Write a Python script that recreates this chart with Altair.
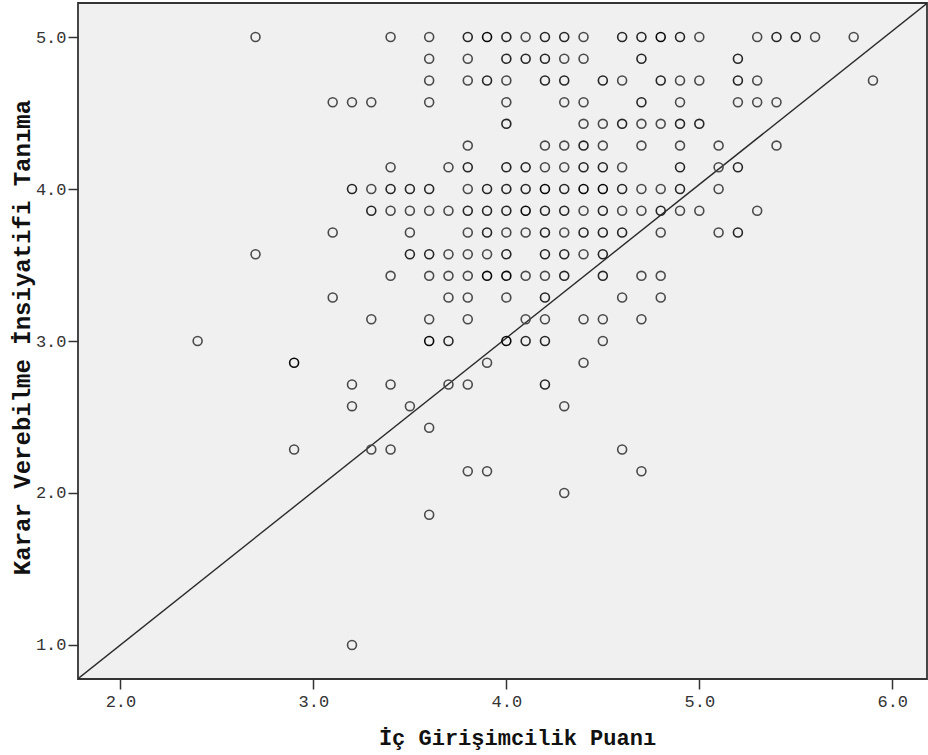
import altair as alt
import pandas as pd

# Karar Verebilme İnsiyatifi Tanıma levels (rows of the scatter)
karar_levels = [5.0, 4.857, 4.714, 4.571, 4.429, 4.286, 4.143, 4.0, 3.857,
                3.714, 3.571, 3.429, 3.286, 3.143, 3.0, 2.857, 2.714, 2.571,
                2.429, 2.286, 2.143, 2.0, 1.857, 1.0]

# İç Girişimcilik Puanı values found on each level
puan_by_level = [
    [2.7, 3.4, 3.6, 3.8, 3.9, 4.0, 4.1, 4.2, 4.3, 4.4, 4.6, 4.7, 4.8, 4.9, 5.0, 5.3, 5.4, 5.5, 5.6, 5.8],
    [3.6, 3.8, 4.0, 4.1, 4.2, 4.3, 4.4, 4.7, 5.2],
    [3.6, 3.8, 3.9, 4.0, 4.2, 4.3, 4.5, 4.6, 4.8, 4.9, 5.0, 5.2, 5.3, 5.9],
    [3.1, 3.2, 3.3, 3.6, 4.0, 4.3, 4.4, 4.7, 4.9, 5.2, 5.3, 5.4],
    [4.0, 4.4, 4.5, 4.6, 4.7, 4.8, 4.9, 5.0],
    [3.8, 4.2, 4.3, 4.4, 4.5, 4.7, 4.9, 5.1, 5.4],
    [3.4, 3.7, 3.8, 4.0, 4.1, 4.2, 4.3, 4.4, 4.5, 4.6, 4.9, 5.1, 5.2],
    [3.2, 3.3, 3.4, 3.5, 3.6, 3.8, 3.9, 4.0, 4.1, 4.2, 4.3, 4.4, 4.5, 4.6, 4.7, 4.8, 4.9, 5.1],
    [3.3, 3.4, 3.5, 3.6, 3.7, 3.8, 3.9, 4.0, 4.1, 4.2, 4.3, 4.4, 4.5, 4.6, 4.7, 4.8, 4.9, 5.0, 5.3],
    [3.1, 3.5, 3.8, 3.9, 4.0, 4.1, 4.2, 4.3, 4.4, 4.5, 4.6, 4.8, 5.1, 5.2],
    [2.7, 3.5, 3.6, 3.7, 3.8, 3.9, 4.0, 4.2, 4.3, 4.4, 4.5],
    [3.4, 3.6, 3.7, 3.8, 3.9, 4.0, 4.1, 4.2, 4.3, 4.5, 4.7, 4.8],
    [3.1, 3.7, 3.8, 4.0, 4.2, 4.6, 4.8],
    [3.3, 3.6, 3.8, 4.1, 4.2, 4.4, 4.5, 4.7],
    [2.4, 3.6, 3.7, 4.0, 4.1, 4.2, 4.5],
    [2.9, 3.9, 4.4],
    [3.2, 3.4, 3.7, 3.8, 4.2],
    [3.2, 3.5, 4.3],
    [3.6],
    [2.9, 3.3, 3.4, 4.6],
    [3.8, 3.9, 4.7],
    [4.3],
    [3.6],
    [3.2],
]

# number of respondents sharing each point (overlaps draw darker)
adet_by_level = [
    [1, 1, 1, 2, 3, 2, 1, 2, 2, 1, 2, 2, 3, 2, 1, 1, 2, 2, 1, 1],
    [1, 1, 2, 2, 2, 1, 1, 2, 2],
    [1, 1, 2, 1, 2, 2, 2, 1, 2, 1, 1, 2, 1, 1],
    [1, 1, 1, 1, 1, 1, 1, 2, 1, 1, 1, 1],
    [2, 1, 1, 2, 1, 1, 2, 2],
    [1, 1, 1, 2, 1, 1, 1, 1, 1],
    [1, 1, 2, 2, 2, 1, 1, 2, 2, 1, 2, 1, 2],
    [2, 1, 2, 2, 2, 1, 2, 2, 2, 3, 2, 3, 3, 2, 1, 1, 2, 1],
    [2, 1, 1, 1, 1, 2, 2, 2, 3, 2, 2, 1, 2, 1, 1, 2, 1, 1, 1],
    [1, 1, 1, 2, 1, 1, 2, 1, 2, 2, 2, 1, 1, 2],
    [1, 2, 2, 1, 1, 1, 2, 2, 2, 1, 2],
    [1, 1, 1, 1, 3, 3, 1, 1, 2, 2, 1, 1],
    [1, 1, 1, 1, 2, 1, 1],
    [1, 1, 1, 1, 1, 1, 1, 1],
    [1, 3, 2, 3, 2, 2, 1],
    [3, 1, 1],
    [1, 1, 1, 1, 2],
    [1, 1, 1],
    [1],
    [1, 1, 1, 1],
    [1, 1, 1],
    [1],
    [1],
    [1],
]

# reference line drawn across the plot
line_intercept = -1.02
line_slope = 1.01

x_domain = [1.78, 6.18]
y_domain = [0.776, 5.224]

records = []
for yv, xs, ns in zip(karar_levels, puan_by_level, adet_by_level):
    for xv, nv in zip(xs, ns):
        records.append({"puan": xv, "karar": yv, "adet": nv})
points_df = pd.DataFrame(records)

line_df = pd.DataFrame({
    "puan": x_domain,
    "karar": [line_intercept + line_slope * v for v in x_domain],
})

x_scale = alt.Scale(domain=x_domain, nice=False, zero=False)
y_scale = alt.Scale(domain=y_domain, nice=False, zero=False)

x_axis = alt.Axis(
    title="İç Girişimcilik Puanı",
    values=[2.0, 3.0, 4.0, 5.0, 6.0],
    format=".1f",
    grid=False,
    domain=False,
    tickSize=10,
    tickWidth=1.5,
    tickColor="#333333",
    labelFont="Liberation Mono",
    labelFontSize=17,
    labelColor="#333333",
    labelPadding=4,
    titleFont="Liberation Mono",
    titleFontSize=22,
    titleFontWeight="bold",
    titleColor="#111111",
    titleX=439,
    titleY=58,
    titleBaseline="middle",
)

y_axis = alt.Axis(
    title="Karar Verebilme İnsiyatifi Tanıma",
    values=[1.0, 2.0, 3.0, 4.0, 5.0],
    format=".1f",
    grid=False,
    domain=False,
    tickSize=10,
    tickWidth=1.5,
    tickColor="#333333",
    labelFont="Liberation Mono",
    labelFontSize=17,
    labelColor="#333333",
    labelPadding=2,
    titleFont="Liberation Mono",
    titleFontSize=24,
    titleFontWeight="bold",
    titleColor="#111111",
    titleX=-56,
    titleY=334,
    titleBaseline="middle",
)

points = alt.Chart(points_df).mark_point(
    shape="circle", filled=False, size=80, strokeWidth=1.6, opacity=1
).encode(
    x=alt.X("puan:Q", scale=x_scale, axis=x_axis),
    y=alt.Y("karar:Q", scale=y_scale, axis=y_axis),
    color=alt.Color(
        "adet:Q",
        scale=alt.Scale(domain=[1, 2, 3], range=["#4a4a4a", "#262626", "#080808"]),
        legend=None,
    ),
)

ref_line = alt.Chart(line_df).mark_line(
    color="#2a2a2a", strokeWidth=1.4, clip=True
).encode(
    x=alt.X("puan:Q", scale=x_scale),
    y=alt.Y("karar:Q", scale=y_scale),
)

chart = alt.layer(ref_line, points).properties(
    width=849,
    height=676,
    autosize=alt.AutoSizeParams(type="none"),
    padding={"left": 78, "top": 3, "right": 1, "bottom": 76},
    background="white",
).configure_view(
    fill="#f0f0f0",
    stroke="#333333",
    strokeWidth=1.8,
)

chart.save("out.html", embed_options={"renderer": "svg", "actions": False})
